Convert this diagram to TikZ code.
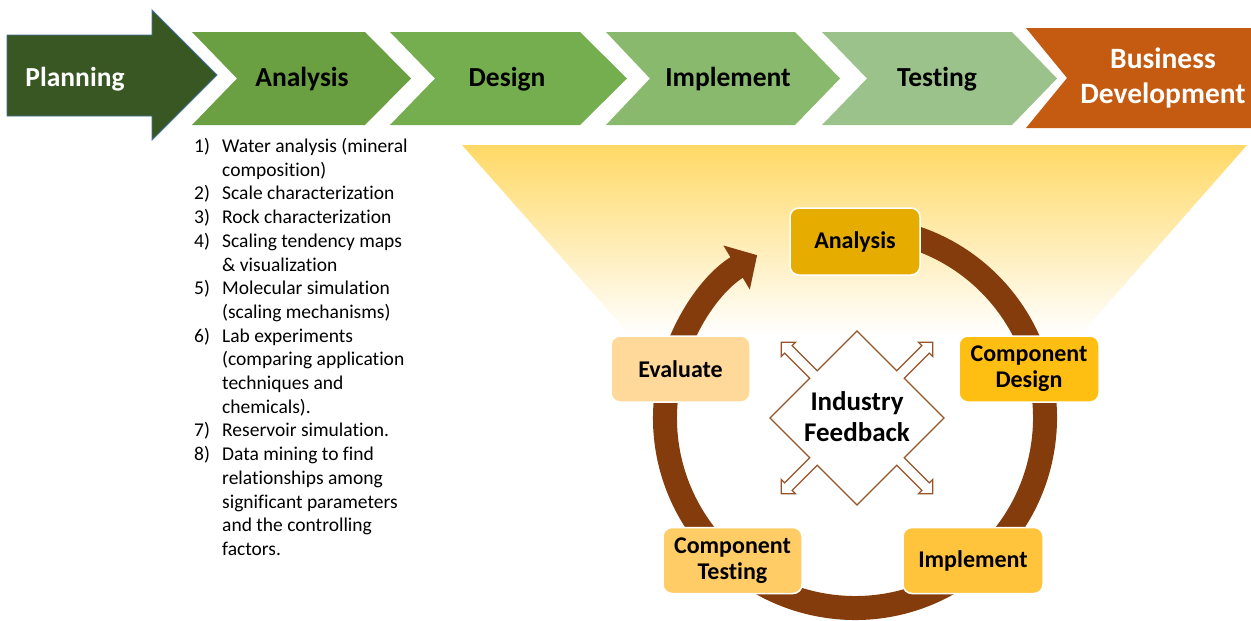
\documentclass[tikz,border=0pt]{standalone}
\usepackage{fontspec}
\setmainfont{Carlito}[Ligatures=NoCommon]
\usetikzlibrary{arrows.meta,shapes.misc,calc}
\definecolor{plangreen}{RGB}{56,87,35}
\definecolor{planline}{RGB}{65,113,156}
\definecolor{gA}{RGB}{106,159,66}
\definecolor{gB}{RGB}{116,174,78}
\definecolor{gC}{RGB}{137,185,108}
\definecolor{gD}{RGB}{155,194,138}
\definecolor{bizorange}{RGB}{197,90,17}
\definecolor{ringbrown}{RGB}{132,60,12}
\definecolor{quadline}{RGB}{150,84,40}
\definecolor{trapyellow}{RGB}{255,217,102}
\definecolor{bxA}{RGB}{230,172,0}
\definecolor{bxB}{RGB}{255,190,18}
\definecolor{bxC}{RGB}{255,195,60}
\definecolor{bxD}{RGB}{255,204,102}
\definecolor{bxE}{RGB}{255,217,153}
\newcommand\hdfont{\fontsize{27.5}{33}\bfseries\selectfont}
\newcommand\bzfont{\fontsize{29.5}{35}\bfseries\selectfont}
\newcommand\bxfont{\fontsize{24}{26}\bfseries\selectfont}
\newcommand\fbfont{\fontsize{27}{33}\bfseries\selectfont}
\newcommand\lsfont{\fontsize{19.5}{23.7}\selectfont}
\tikzset{
  hdtext/.style={anchor=base, inner sep=0pt, font=\hdfont},
  cyclebox/.style={draw=white, line width=1.5pt, rounded corners=9pt, minimum width=139pt, minimum height=66pt, inner sep=0pt, align=center, font=\bxfont, text=black},
}
\begin{document}
\begin{tikzpicture}[x=1pt,y=-1pt]
\useasboundingbox (0,0) rectangle (1251,621);
\fill[white] (0,0) rectangle (1251,621);
% planning arrow
\draw[fill=plangreen, draw=planline, line width=0.8pt] (7,35) -- (152,35) -- (152,10) -- (217,75) -- (152,140) -- (152,116) -- (7,116) -- cycle;
% chevrons
\fill[gA] (192,32) -- (365,32) -- (411,78.5) -- (365,125) -- (192,125) -- (237,78.5) -- cycle;
\fill[gB] (390,32) -- (580,32) -- (627,78.5) -- (580,125) -- (390,125) -- (435,78.5) -- cycle;
\fill[gC] (606,32) -- (795,32) -- (840,78.5) -- (795,125) -- (606,125) -- (650,78.5) -- cycle;
\fill[gD] (822,32) -- (1012,32) -- (1057,78.5) -- (1012,125) -- (822,125) -- (867,78.5) -- cycle;
\fill[bizorange] (1026,28) -- (1251,28) -- (1251,128) -- (1026,128) -- (1067,78) -- cycle;
\node[hdtext, text=white] (planning) at (75,86) {Planning};
\node[hdtext] (hanalysis) at (302,86) {Analysis};
\node[hdtext] (hdesign) at (507,86) {Design};
\node[hdtext] (himplement) at (728,86) {Implement};
\node[hdtext] (htesting) at (937,86) {Testing};
\node[inner sep=0pt, align=center, font=\bzfont, text=white] (hbusiness) at (1163,78) {Business\\Development};
% list
\node[anchor=base west, inner sep=0pt, font=\lsfont] (list) at (194,152.5) {%
\begin{tabular}[t]{@{}p{28pt}@{}l@{}}
1) & Water analysis (mineral\\
   & composition)\\
2) & Scale characterization\\
3) & Rock characterization\\
4) & Scaling tendency maps\\
   & \& visualization\\
5) & Molecular simulation\\
   & (scaling mechanisms)\\
6) & Lab experiments\\
   & (comparing application\\
   & techniques and\\
   & chemicals).\\
7) & Reservoir simulation.\\
8) & Data mining to find\\
   & relationships among\\
   & significant parameters\\
   & and the controlling\\
   & factors.
\end{tabular}};
% gradient trapezoid
\shade[top color=trapyellow, bottom color=white] (462,145) -- (1247,145) -- (1080,335) -- (630,335) -- cycle;
% ring
\coordinate (cc) at (855,418);
\draw[ringbrown, line width=24pt, -{Triangle[length=24pt,width=50pt]}] ($(cc)+(-80:190)$) arc[start angle=-80, end angle=239, radius=190];
% boxes
\node[cyclebox, fill=bxA, minimum width=130pt, minimum height=67pt] (banalysis) at (855,241.5) {Analysis};
\node[cyclebox, fill=bxB, minimum width=140pt] (bdesign) at (1029,369) {Component\\Design};
\node[cyclebox, fill=bxC, minimum width=140pt] (bimplement) at (973,560.5) {Implement};
\node[cyclebox, fill=bxD] (btesting) at (732.5,560.5) {Component\\Testing};
\node[cyclebox, fill=bxE] (bevaluate) at (680.5,369) {Evaluate};
% quad arrow
\begin{scope}[shift={(857,418)}, rotate=45]
\def\qa{61.5}\def\qw{5.3}\def\qb{97}\def\qh{10}\def\qt{107}
\draw[quadline, fill=white, line width=1.2pt, line join=miter]
 (\qa,-\qw) -- (\qb,-\qw) -- (\qb,-\qh) -- (\qt,0) -- (\qb,\qh) -- (\qb,\qw) -- (\qa,\qw) -- (\qa,\qa)
 -- (\qw,\qa) -- (\qw,\qb) -- (\qh,\qb) -- (0,\qt) -- (-\qh,\qb) -- (-\qw,\qb) -- (-\qw,\qa) -- (-\qa,\qa)
 -- (-\qa,\qw) -- (-\qb,\qw) -- (-\qb,\qh) -- (-\qt,0) -- (-\qb,-\qh) -- (-\qb,-\qw) -- (-\qa,-\qw) -- (-\qa,-\qa)
 -- (-\qw,-\qa) -- (-\qw,-\qb) -- (-\qh,-\qb) -- (0,-\qt) -- (\qh,-\qb) -- (\qw,-\qb) -- (\qw,-\qa) -- (\qa,-\qa) -- cycle;
\end{scope}
\node[inner sep=0pt, align=center, font=\fbfont] (feedback) at (857,417) {Industry\\[-2pt]Feedback};
\end{tikzpicture}
\end{document}
